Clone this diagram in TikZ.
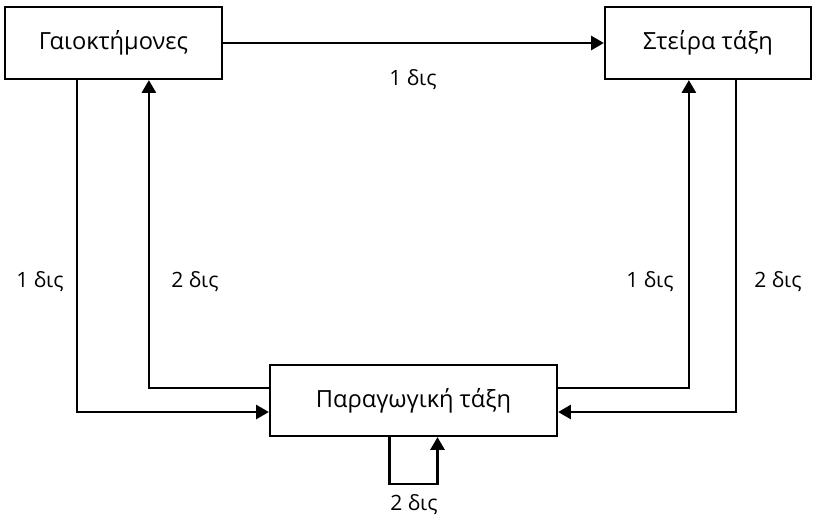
\documentclass[tikz,border=0pt]{standalone}
\usepackage{fontspec}
\setmainfont{Open Sans}
\usetikzlibrary{arrows.meta,positioning,calc}

\begin{document}
\begin{tikzpicture}[x=0.025cm,y=-0.025cm,
  box/.style={draw,line width=1.6pt,inner sep=0pt,font=\fontsize{16.8}{20}\selectfont},
  flow/.style={line width=1.6pt,-{Triangle[length=9pt,width=10pt]}},
  lbl/.style={font=\fontsize{15}{18}\selectfont}]
  \useasboundingbox (0,0) rectangle (815,522);

  % Classes
  \node[box,minimum width=5.425cm,minimum height=1.8cm] (ga) at (113.5,43) {Γαιοκτήμονες};
  \node[box,minimum width=5.15cm,minimum height=1.8cm] (st) at (708,43) {Στείρα τάξη};
  \node[box,minimum width=7.175cm,minimum height=1.775cm] (pt) at (413.5,400.5) {Παραγωγική τάξη};

  % Drawing line ga st
  \draw[flow] (ga) -- (st);
  \node[lbl] (lga) at (413,80) {1 δις};

  % Drawing lines ga pt
  \draw[flow] ([xshift=1.825cm]ga.south west) |- ([yshift=-0.2875cm]pt.west);
  \draw[flow] ([yshift=0.3125cm]pt.west) -| ([xshift=3.625cm]ga.south west);
  \node[lbl] (lgo) at (40,282) {1 δις};
  \node[lbl] (lgi) at (195,282) {2 δις};

  % Drawing lines st pt
  \draw[flow] ([yshift=0.3125cm]pt.east) -| ([xshift=2.125cm]st.south west);
  \draw[flow] ([xshift=3.3cm]st.south west) |- ([yshift=-0.2875cm]pt.east);
  \node[lbl] (lsi) at (650,282) {1 δις};
  \node[lbl] (lso) at (778,282) {2 δις};

  % Drawing loop pt
  \draw[flow] ([xshift=-0.6cm]pt.south) -- ++(0,47) -| ([xshift=0.6cm]pt.south);
  \node[lbl] (lpt) at (414,505) {2 δις};
\end{tikzpicture}
\end{document}
